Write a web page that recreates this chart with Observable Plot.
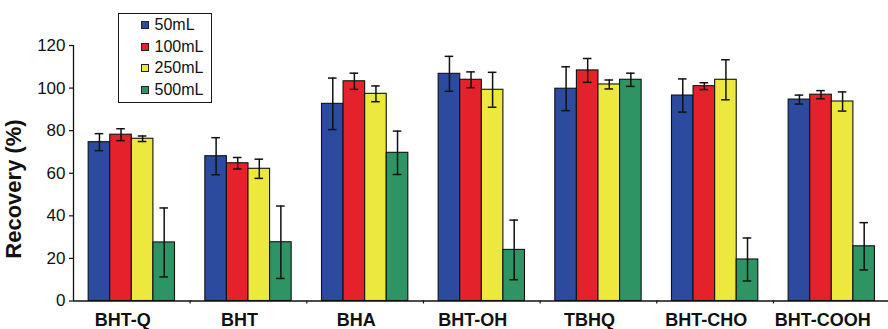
<!DOCTYPE html>
<html>
<head>
<meta charset="utf-8">
<script src="https://cdn.jsdelivr.net/npm/d3@7"></script>
<script src="https://cdn.jsdelivr.net/npm/@observablehq/plot@0.6"></script>
<style>
  body { margin: 0; background: #fff; }
  #chart { position: relative; width: 888px; height: 329px; font-family: "Liberation Sans", Arial, sans-serif; }
  .legend { position: absolute; left: 118px; top: 13px; width: 94px; height: 90px; box-sizing: border-box;
            border: 1.5px solid #1a1a1a; background: #fff; padding-top: 0.5px; }
  .legend .row { display: flex; align-items: center; height: 21.6px; font-size: 16px; color: #111; }
  .legend .sw { width: 8px; height: 8px; box-sizing: border-box; border: 1px solid #222; margin-left: 21.5px; margin-right: 6px; }
  .ylabel { position: absolute; left: 14px; top: 189px; transform: translate(-50%, -50%) rotate(-90deg);
            white-space: nowrap; font-size: 22px; font-weight: bold; color: #111; line-height: 1; }
</style>
</head>
<body>
<div id="chart"></div>
<script>
// Recovery (%) of each antioxidant at four sample volumes (mean and standard deviation)
const compounds = ["BHT-Q", "BHT", "BHA", "BHT-OH", "TBHQ", "BHT-CHO", "BHT-COOH"];
const volumes = ["50mL", "100mL", "250mL", "500mL"];
const colors = ["#2c4b9e", "#e5222b", "#ede83d", "#2f9464"];

const rec50  = [74.6, 68.0, 92.6, 106.7, 99.7, 96.5, 94.6];
const rec100 = [78.1, 64.7, 103.2, 103.9, 108.3, 100.9, 96.9];
const rec250 = [76.2, 62.1, 97.3, 99.2, 101.7, 103.9, 93.7];
const rec500 = [27.5, 27.6, 69.6, 24.0, 103.9, 19.5, 25.7];

const sd50  = [4.0, 8.7, 12.1, 8.2, 10.3, 7.8, 2.1];
const sd100 = [2.8, 2.7, 3.8, 3.7, 5.6, 1.6, 1.9];
const sd250 = [1.3, 4.5, 3.7, 8.2, 2.1, 9.4, 4.5];
const sd500 = [16.2, 17.0, 10.2, 14.0, 3.1, 10.1, 11.1];

const yTicks = [0, 20, 40, 60, 80, 100, 120];

const recoveries = [rec50, rec100, rec250, rec500];
const deviations = [sd50, sd100, sd250, sd500];

// Each compound occupies one unit on x; its four bars sit side by side around the centre.
const barWidth = 0.185;
const rows = [];
compounds.forEach((compound, gi) => {
  volumes.forEach((volume, si) => {
    const x1 = gi + (si - 2) * barWidth;
    rows.push({
      compound, volume,
      value: recoveries[si][gi],
      sd: deviations[si][gi],
      x1, x2: x1 + barWidth, xc: x1 + barWidth / 2
    });
  });
});

const ink = "#111";
const plot = Plot.plot({
  width: 888,
  height: 329,
  marginLeft: 73,
  marginRight: 0,
  marginTop: 45,
  marginBottom: 28.5,
  style: { fontFamily: "'Liberation Sans', Arial, sans-serif", color: ink, background: "#fff" },
  x: { type: "linear", domain: [-0.5, 6.486], axis: null },
  y: { domain: [0, 120], axis: null },
  color: { domain: volumes, range: colors },
  marks: [
    Plot.rectY(rows, { x1: "x1", x2: "x2", y: "value", fill: "volume", stroke: ink, strokeWidth: 1.1 }),
    // error bars: stem and caps
    Plot.ruleX(rows, { x: "xc", y1: d => d.value - d.sd, y2: d => d.value + d.sd, stroke: ink, strokeWidth: 1.5 }),
    Plot.ruleY(rows, { x1: "x1", x2: "x2", y: d => d.value + d.sd, insetLeft: 6.5, insetRight: 6.5, stroke: ink, strokeWidth: 1.5 }),
    Plot.ruleY(rows, { x1: "x1", x2: "x2", y: d => d.value - d.sd, insetLeft: 6.5, insetRight: 6.5, stroke: ink, strokeWidth: 1.5 }),
    // axis lines
    Plot.ruleY([0], { stroke: ink, strokeWidth: 1.3 }),
    Plot.ruleX([-0.5], { y1: 0, y2: 120, stroke: ink, strokeWidth: 1.3 }),
    Plot.axisY({ ticks: yTicks, tickSize: 4, tickPadding: 4, fontSize: 17, strokeWidth: 1.2, label: null }),
    Plot.axisX({ ticks: d3.range(compounds.length).map(i => i + 0.5), tickSize: 3, tickFormat: () => "", strokeWidth: 1.2, label: null }),
    Plot.axisX({ ticks: d3.range(compounds.length), tickSize: 0, tickPadding: 12.5, tickFormat: i => compounds[i],
                 fontSize: 18, fontWeight: "bold", dx: -9, label: null })
  ]
});

const chart = document.getElementById("chart");
chart.appendChild(plot);

// y-axis title
const ylabel = document.createElement("div");
ylabel.className = "ylabel";
ylabel.textContent = "Recovery (%)";
chart.appendChild(ylabel);

// legend box inside the plot area
const legend = document.createElement("div");
legend.className = "legend";
volumes.forEach((v, i) => {
  const row = document.createElement("div");
  row.className = "row";
  const sw = document.createElement("span");
  sw.className = "sw";
  sw.style.background = colors[i];
  const label = document.createElement("span");
  label.textContent = v;
  row.append(sw, label);
  legend.appendChild(row);
});
chart.appendChild(legend);
</script>
</body>
</html>
